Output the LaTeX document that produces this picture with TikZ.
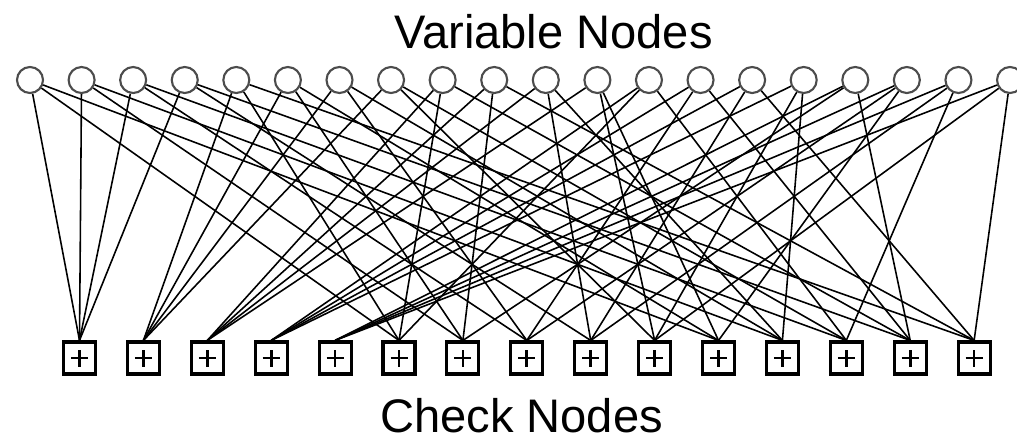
\documentclass[tikz,border=0pt]{standalone}
\usepackage{fontspec}
\setmainfont{Liberation Sans}
\begin{document}
\begin{tikzpicture}[every node/.style={font=\fontsize{13.4}{16}\selectfont}]
    \tikzstyle{varnode} = [circle, draw=black!70, line width=0.6pt, minimum size=0.26cm, inner sep=0pt]
    \tikzstyle{checknode} = [rectangle, draw=black, line width=0.9pt, minimum size=0.32cm, inner sep=0pt,
        path picture={\draw [line width=0.75pt] ([xshift=-0.085cm]path picture bounding box.center) -- ++(0.17,0);
                      \draw [line width=0.75pt] ([yshift=-0.085cm]path picture bounding box.center) -- ++(0,0.17);}]
    \tikzstyle{edge} = [line width=0.45pt]

    \useasboundingbox (0,0) rectangle (10.17,4.38);

    % Variable nodes
    \begin{scope}[node distance=0.5158cm]
    \node [varnode] (v1) at (0.30,3.58) {};
    \node [varnode, right of=v1] (v2) {};
    \node [varnode, right of=v2] (v3) {};
    \node [varnode, right of=v3] (v4) {};
    \node [varnode, right of=v4] (v5) {};
    \node [varnode, right of=v5] (v6) {};
    \node [varnode, right of=v6] (v7) {};
    \node [varnode, right of=v7] (v8) {};
    \node [varnode, right of=v8] (v9) {};
    \node [varnode, right of=v9] (v10) {};
    \node [varnode, right of=v10] (v11) {};
    \node [varnode, right of=v11] (v12) {};
    \node [varnode, right of=v12] (v13) {};
    \node [varnode, right of=v13] (v14) {};
    \node [varnode, right of=v14] (v15) {};
    \node [varnode, right of=v15] (v16) {};
    \node [varnode, right of=v16] (v17) {};
    \node [varnode, right of=v17] (v18) {};
    \node [varnode, right of=v18] (v19) {};
    \node [varnode, right of=v19] (v20) {};
    \end{scope}

    % Check nodes
    \begin{scope}[node distance=0.639cm]
    \node [checknode] (c1) at (0.795,0.80) {};
    \node [checknode, right of=c1] (c2) {};
    \node [checknode, right of=c2] (c3) {};
    \node [checknode, right of=c3] (c4) {};
    \node [checknode, right of=c4] (c5) {};
    \node [checknode, right of=c5] (c6) {};
    \node [checknode, right of=c6] (c7) {};
    \node [checknode, right of=c7] (c8) {};
    \node [checknode, right of=c8] (c9) {};
    \node [checknode, right of=c9] (c10) {};
    \node [checknode, right of=c10] (c11) {};
    \node [checknode, right of=c11] (c12) {};
    \node [checknode, right of=c12] (c13) {};
    \node [checknode, right of=c13] (c14) {};
    \node [checknode, right of=c14] (c15) {};
    \end{scope}

    % Labels
    \node [anchor=base] (var_label) at (5.535,3.90) {Variable Nodes};
    \node [anchor=base] (check_label) at (5.215,0.06) {Check Nodes};

    % Edges, one check at a time
    \foreach \v in {1,2,3,4} \draw [edge] (v\v) -- (c1.north);
    \foreach \v in {5,6,7,8} \draw [edge] (v\v) -- (c2.north);
    \foreach \v in {9,10,11,12} \draw [edge] (v\v) -- (c3.north);
    \foreach \v in {13,14,15,16} \draw [edge] (v\v) -- (c4.north);
    \foreach \v in {17,18,19,20} \draw [edge] (v\v) -- (c5.north);
    \foreach \v in {1,5,9,13} \draw [edge] (v\v) -- (c6.north);
    \foreach \v in {2,6,10,17} \draw [edge] (v\v) -- (c7.north);
    \foreach \v in {3,7,14,18} \draw [edge] (v\v) -- (c8.north);
    \foreach \v in {4,11,15,19} \draw [edge] (v\v) -- (c9.north);
    \foreach \v in {8,12,16,20} \draw [edge] (v\v) -- (c10.north);
    \foreach \v in {1,6,12,18} \draw [edge] (v\v) -- (c11.north);
    \foreach \v in {2,7,11,16} \draw [edge] (v\v) -- (c12.north);
    \foreach \v in {3,8,13,19} \draw [edge] (v\v) -- (c13.north);
    \foreach \v in {4,9,14,17} \draw [edge] (v\v) -- (c14.north);
    \foreach \v in {5,10,15,20} \draw [edge] (v\v) -- (c15.north);
\end{tikzpicture}
\end{document}
